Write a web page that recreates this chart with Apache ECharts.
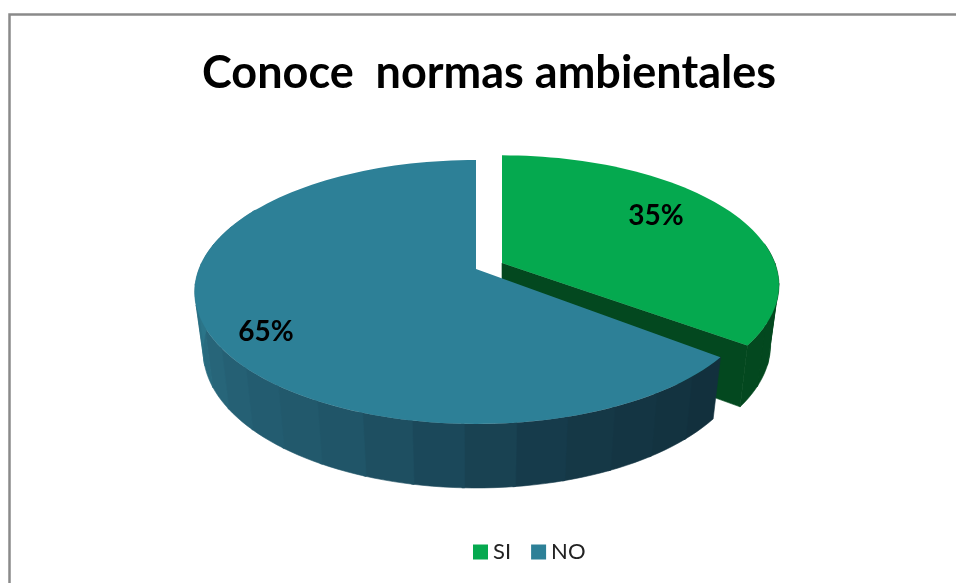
<!DOCTYPE html>
<html>
<head>
<meta charset="utf-8">
<style>
  html, body { margin: 0; padding: 0; background: #fff; }
  #chart { width: 956px; height: 583px; }
</style>
<script src="https://cdn.jsdelivr.net/npm/echarts@6/dist/echarts.min.js"></script>
</head>
<body>
<div id="chart"></div>
<script>
// datos de la grafica
const categories = ['SI', 'NO']
const values = [35, 65]
const titleText = 'Conoce  normas ambientales'

// colores
const topColors = ['#05a94f', '#2d8097']
const wallColors = [
  ['#03481f', '#03481f'],
  ['#12303d', '#163a49', '#1f5366', '#266276', '#2b768a', '#2d7c92']
]
const cutColors = ['#03481f', '#12303d']

// perspectiva del disco (se deduce de la foto)
const RX = 277
const RY = 128
const TILT = 0.174
const DEPTH = 64
const BOTTOM_SHRINK = 0.97
// centro de cada porcion; SI esta separada del resto
const apex = [[502, 263], [476, 269]]
const sliceScale = [0.985, 1]
const startGap = [0, 2]
const labelPos = [[656, 216], [266, 332]]

const total = values.reduce((a, b) => a + b, 0)

// angulo en grados desde las 12, sentido horario
function sliceAngles(index) {
  let start = 0
  for (let i = 0; i < index; i++) start += values[i] / total * 360
  return [start + startGap[index], start + values[index] / total * 360]
}

// z = 0 cara de arriba, z = 1 cara de abajo
function project(index, deg, r, z) {
  const t = deg * Math.PI / 180
  const u = r * Math.sin(t) * sliceScale[index]
  const v = r * Math.cos(t) * sliceScale[index]
  const w = 1 + TILT * v
  const shrink = 1 - (1 - BOTTOM_SHRINK) * z
  const drop = z * DEPTH * (1 - 0.095 * (v + 1))
  return [
    apex[index][0] + RX * u * shrink / w,
    apex[index][1] - RY * v / w + drop
  ]
}

function arcPoints(index, from, to, z) {
  const pts = []
  const steps = Math.ceil(Math.abs(to - from) / 2)
  for (let i = 0; i <= steps; i++) {
    pts.push(project(index, from + (to - from) * i / steps, 1, z))
  }
  return pts
}

function wallColor(index, t) {
  return echarts.color.lerp(t, wallColors[index])
}

function renderSlice(index) {
  const [a0, a1] = sliceAngles(index)
  const children = []

  // cara del corte que se ve hacia el frente
  if (index === 0) {
    children.push({
      type: 'polygon',
      shape: { points: [
        project(index, a1, 0, 0), project(index, a1, 1, 0),
        project(index, a1, 1, 1), project(index, a1, 0, 1)
      ] },
      style: { fill: cutColors[index], stroke: cutColors[index], lineWidth: 0.6 }
    })
  }

  // pared exterior por bandas, como el sombreado del 3D original
  const wallEnd = index === 0 ? a1 : 300
  const band = 9
  const bands = Math.ceil((wallEnd - a0) / band)
  for (let i = 0; i < bands; i++) {
    const from = a0 + i * band
    const to = Math.min(from + band + 0.5, wallEnd)
    if (index === 0 && to < 85) continue
    const upper = arcPoints(index, from, to, 0)
    const lower = arcPoints(index, to, from, 1)
    const fill = wallColor(index, i / Math.max(bands - 1, 1))
    children.push({
      type: 'polygon',
      shape: { points: upper.concat(lower) },
      style: { fill, stroke: fill, lineWidth: 0.6 }
    })
  }

  // cara de arriba
  children.push({
    type: 'polygon',
    shape: { points: [project(index, a0, 0, 0)].concat(arcPoints(index, a0, a1, 0)) },
    style: { fill: topColors[index] }
  })

  // porcentaje
  children.push({
    type: 'text',
    style: {
      x: labelPos[index][0],
      y: labelPos[index][1],
      text: Math.round(values[index] / total * 100) + '%',
      fill: '#000',
      font: 'bold 28px Lato',
      align: 'center',
      verticalAlign: 'middle'
    }
  })
  return { type: 'group', children }
}

const chart = echarts.init(document.getElementById('chart'), null, { renderer: 'canvas' })

chart.setOption({
  animation: false,
  backgroundColor: '#fff',
  title: {
    text: titleText,
    left: 484,
    top: 46,
    textAlign: 'center',
    textStyle: { fontFamily: 'Lato', fontSize: 45, fontWeight: 'bold', color: '#000' }
  },
  legend: {
    data: categories.map(name => ({ name, icon: 'rect' })),
    left: 468,
    top: 536,
    itemWidth: 15,
    itemHeight: 15,
    itemGap: 20,
    textStyle: { fontFamily: 'Lato', fontSize: 22, color: '#222' }
  },
  graphic: [{
    type: 'rect',
    silent: true,
    shape: { x: 9.5, y: 14.5, width: 960, height: 600 },
    style: { fill: 'none', stroke: '#8a8a8a', lineWidth: 2.5 }
  }],
  series: categories.map((name, index) => ({
    type: 'custom',
    name,
    coordinateSystem: 'none',
    silent: true,
    itemStyle: { color: topColors[index] },
    data: [values[index]],
    renderItem: () => renderSlice(index)
  }))
})
</script>
</body>
</html>
